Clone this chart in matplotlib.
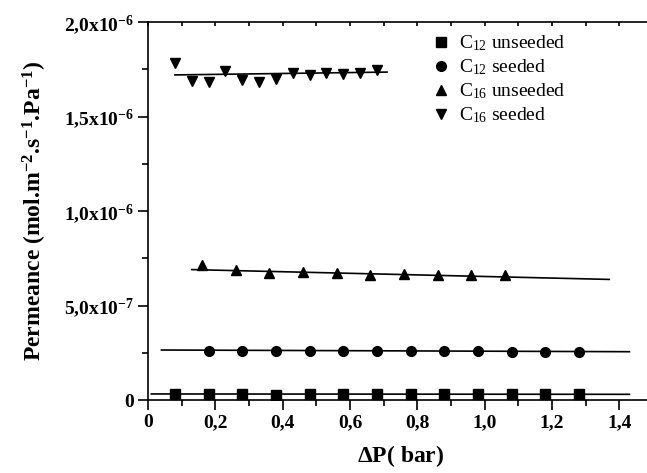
# plot.py
# Permeance vs pressure difference for seeded / unseeded C12 and C16 membranes.

import matplotlib
matplotlib.use('Agg')
import matplotlib.pyplot as plt
from matplotlib.ticker import MultipleLocator, FixedLocator, FixedFormatter

plt.rcParams['font.family'] = 'Liberation Serif'
plt.rcParams['mathtext.fontset'] = 'custom'
plt.rcParams['mathtext.rm'] = 'Liberation Serif'
plt.rcParams['mathtext.bf'] = 'Liberation Serif:bold'
plt.rcParams['mathtext.default'] = 'regular'

# measured points
x_c12_unseeded = [0.08, 0.18, 0.28, 0.38, 0.48, 0.58, 0.68, 0.78, 0.88, 0.98, 1.08, 1.18, 1.28]
y_c12_unseeded = [3.3e-8, 3.2e-8, 3.1e-8, 2.5e-8, 3.1e-8, 3.1e-8, 3.1e-8, 3.1e-8, 3.1e-8, 3.1e-8, 3.0e-8, 3.1e-8, 3.1e-8]

x_c12_seeded = [0.18, 0.28, 0.38, 0.48, 0.58, 0.68, 0.78, 0.88, 0.98, 1.08, 1.18, 1.28]
y_c12_seeded = [2.61e-7, 2.58e-7, 2.61e-7, 2.59e-7, 2.60e-7, 2.59e-7, 2.59e-7, 2.58e-7, 2.57e-7, 2.56e-7, 2.55e-7, 2.53e-7]

x_c16_unseeded = [0.16, 0.26, 0.36, 0.46, 0.56, 0.66, 0.76, 0.86, 0.96, 1.06]
y_c16_unseeded = [7.14e-7, 6.88e-7, 6.74e-7, 6.76e-7, 6.70e-7, 6.63e-7, 6.65e-7, 6.63e-7, 6.62e-7, 6.61e-7]

x_c16_seeded = [0.08, 0.13, 0.18, 0.23, 0.28, 0.33, 0.38, 0.43, 0.48, 0.53, 0.58, 0.63, 0.68]
y_c16_seeded = [1.781e-6, 1.690e-6, 1.684e-6, 1.741e-6, 1.693e-6, 1.681e-6, 1.697e-6, 1.728e-6,
                1.720e-6, 1.732e-6, 1.725e-6, 1.730e-6, 1.745e-6]

# linear fits (end points)
fit_c12_unseeded_x = [0.01, 1.43]
fit_c12_unseeded_y = [3.2e-8, 3.0e-8]
fit_c12_seeded_x = [0.04, 1.43]
fit_c12_seeded_y = [2.645e-7, 2.555e-7]
fit_c16_unseeded_x = [0.13, 1.37]
fit_c16_unseeded_y = [6.9e-7, 6.38e-7]
fit_c16_seeded_x = [0.08, 0.71]
fit_c16_seeded_y = [1.72e-6, 1.735e-6]

y_ticks = [0, 0.5e-6, 1.0e-6, 1.5e-6, 2.0e-6]
y_tick_labels = ['0', r'5,0x10$^{\mathbf{-7}}$', r'1,0x10$^{\mathbf{-6}}$',
                 r'1,5x10$^{\mathbf{-6}}$', r'2,0x10$^{\mathbf{-6}}$']
x_ticks = [0, 0.2, 0.4, 0.6, 0.8, 1.0, 1.2, 1.4]
x_tick_labels = ['0', '0,2', '0,4', '0,6', '0,8', '1,0', '1,2', '1,4']

fig = plt.figure(figsize=(6.47, 4.73), dpi=100)
ax = fig.add_axes([148 / 647, 73 / 473, 505 / 647, 378 / 473])

ms = 6.5
ax.plot(x_c12_unseeded, y_c12_unseeded, 's', color='black', ms=ms, label=r'C$_{12}$ unseeded')
ax.plot(x_c12_seeded, y_c12_seeded, 'o', color='black', ms=ms + 0.5, label=r'C$_{12}$ seeded')
ax.plot(x_c16_unseeded, y_c16_unseeded, '^', color='black', ms=ms + 1, label=r'C$_{16}$ unseeded')
ax.plot(x_c16_seeded, y_c16_seeded, 'v', color='black', ms=ms + 1, label=r'C$_{16}$ seeded')

for fx, fy in [(fit_c12_unseeded_x, fit_c12_unseeded_y), (fit_c12_seeded_x, fit_c12_seeded_y),
               (fit_c16_unseeded_x, fit_c16_unseeded_y), (fit_c16_seeded_x, fit_c16_seeded_y)]:
    ax.plot(fx, fy, '-', color='black', lw=1.2)

ax.set_xlim(0, 1.5)
ax.set_ylim(0, 2.0e-6)

ax.xaxis.set_major_locator(FixedLocator(x_ticks))
ax.xaxis.set_major_formatter(FixedFormatter(x_tick_labels))
ax.xaxis.set_minor_locator(MultipleLocator(0.1))
ax.yaxis.set_major_locator(FixedLocator(y_ticks))
ax.yaxis.set_major_formatter(FixedFormatter(y_tick_labels))
ax.yaxis.set_minor_locator(MultipleLocator(0.25e-6))

ax.tick_params(which='major', direction='out', length=7, width=1.2, labelsize=14, pad=3)
ax.tick_params(which='minor', direction='out', length=4, width=1.2)
ax.tick_params(axis='x', which='both', top=True)
for t in ax.xaxis.get_major_ticks() + ax.xaxis.get_minor_ticks():
    t.tick2line.set_marker(3)  # small tick hanging down from the top spine
    t.tick2line.set_markersize(3)
for lbl in ax.get_xticklabels() + ax.get_yticklabels():
    lbl.set_fontweight('bold')

for s in ax.spines.values():
    s.set_linewidth(1.2)
ax.spines['right'].set_visible(False)

ax.set_xlabel(r'$\Delta$P( bar)', fontsize=17, fontweight='bold', labelpad=9)
ax.set_ylabel(r'Permeance (mol.m$^{\mathbf{-2}}$.s$^{\mathbf{-1}}$.Pa$^{\mathbf{-1}}$)',
              fontsize=17, fontweight='bold', labelpad=11)

ax.legend(loc='upper left', bbox_to_anchor=(0.55, 0.99), frameon=False, fontsize=14,
          handlelength=0.8, handletextpad=0.5, labelspacing=0.22, borderaxespad=0)

fig.savefig('out.png', dpi=100)
